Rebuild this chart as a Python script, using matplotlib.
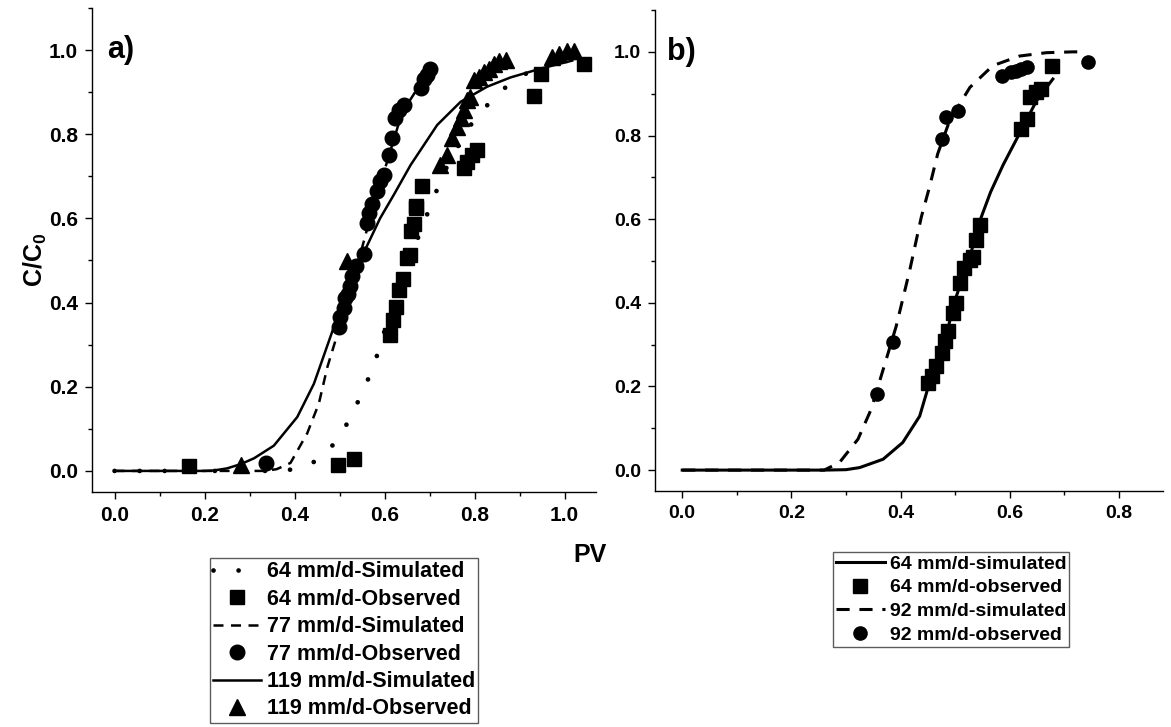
import matplotlib
matplotlib.use("Agg")
import matplotlib.pyplot as plt
from matplotlib.ticker import MultipleLocator

plt.rcParams['font.family'] = ['Liberation Sans', 'DejaVu Sans']
plt.rcParams['font.weight'] = 'bold'
plt.rcParams['mathtext.fontset'] = 'custom'
plt.rcParams['mathtext.rm'] = 'Liberation Sans:bold'
plt.rcParams['mathtext.bf'] = 'Liberation Sans:bold'

# ---- panel a) data ----
sim64_x = [0, 0.36, 0.391, 0.439, 0.480, 0.513, 0.539, 0.562, 0.582, 0.598, 0.62, 0.645,
           0.673, 0.693, 0.713, 0.735, 0.760, 0.787, 0.821, 0.862, 0.910, 0.96, 1.0]
sim64_y = [0, 0, 0.003, 0.018, 0.054, 0.105, 0.160, 0.214, 0.270, 0.326, 0.40, 0.48,
           0.550, 0.605, 0.659, 0.715, 0.765, 0.816, 0.861, 0.906, 0.942, 0.965, 0.975]

obs64_x = [0.165, 0.496, 0.532, 0.613, 0.619, 0.626, 0.632, 0.642, 0.650, 0.656, 0.659,
           0.665, 0.669, 0.671, 0.684, 0.776, 0.784, 0.795, 0.806, 0.933, 0.947, 1.044]
obs64_y = [0.012, 0.014, 0.028, 0.322, 0.359, 0.390, 0.430, 0.456, 0.507, 0.513, 0.570,
           0.587, 0.625, 0.629, 0.676, 0.719, 0.735, 0.751, 0.763, 0.891, 0.944, 0.968]

sim77_x = [0, 0.33, 0.36, 0.391, 0.428, 0.454, 0.473, 0.491, 0.51, 0.53, 0.55, 0.57,
           0.59, 0.61, 0.63, 0.65, 0.68, 0.71]
sim77_y = [0, 0, 0.004, 0.019, 0.089, 0.160, 0.247, 0.310, 0.39, 0.46, 0.53, 0.61,
           0.68, 0.75, 0.82, 0.87, 0.92, 0.96]

obs77_x = [0.336, 0.498, 0.502, 0.510, 0.513, 0.518, 0.524, 0.528, 0.536, 0.554, 0.560,
           0.565, 0.573, 0.584, 0.591, 0.598, 0.610, 0.617, 0.624, 0.632, 0.643, 0.680,
           0.687, 0.695, 0.702]
obs77_y = [0.018, 0.341, 0.365, 0.388, 0.412, 0.420, 0.440, 0.463, 0.487, 0.516, 0.589,
           0.613, 0.635, 0.664, 0.688, 0.704, 0.751, 0.790, 0.838, 0.857, 0.869, 0.909,
           0.932, 0.940, 0.956]

sim119_x = [0, 0.20, 0.22, 0.25, 0.28, 0.31, 0.354, 0.406, 0.443, 0.469, 0.487, 0.52,
            0.55, 0.59, 0.62, 0.658, 0.717, 0.769, 0.828, 0.88, 0.947, 1.006, 1.017]
sim119_y = [0, 0, 0.001, 0.006, 0.016, 0.03, 0.06, 0.128, 0.207, 0.286, 0.341, 0.43,
            0.51, 0.60, 0.655, 0.727, 0.822, 0.877, 0.913, 0.935, 0.956, 0.972, 0.975]

obs119_x = [0.282, 0.517, 0.724, 0.739, 0.750, 0.762, 0.769, 0.776, 0.784, 0.791, 0.798,
            0.810, 0.821, 0.832, 0.843, 0.854, 0.869, 0.973, 0.987, 1.006, 1.021]
obs119_y = [0.014, 0.499, 0.727, 0.751, 0.790, 0.818, 0.838, 0.857, 0.881, 0.889, 0.928,
            0.936, 0.948, 0.956, 0.968, 0.973, 0.976, 0.983, 0.991, 0.999, 0.999]

# ---- panel b) data ----
b_sim64_x = [0, 0.26, 0.30, 0.325, 0.368, 0.404, 0.435, 0.453, 0.478, 0.502, 0.527,
             0.545, 0.565, 0.588, 0.624, 0.649, 0.679]
b_sim64_y = [0, 0, 0.001, 0.006, 0.026, 0.066, 0.129, 0.209, 0.296, 0.415, 0.510,
             0.595, 0.665, 0.73, 0.82, 0.883, 0.935]

b_obs64_x = [0.450, 0.458, 0.465, 0.475, 0.481, 0.487, 0.496, 0.502, 0.508, 0.517, 0.527,
             0.533, 0.539, 0.545, 0.621, 0.631, 0.637, 0.649, 0.658, 0.678]
b_obs64_y = [0.209, 0.225, 0.248, 0.280, 0.308, 0.332, 0.375, 0.399, 0.447, 0.483, 0.502,
             0.510, 0.550, 0.586, 0.816, 0.840, 0.891, 0.903, 0.911, 0.967]

b_sim92_x = [0, 0.26, 0.288, 0.322, 0.346, 0.368, 0.392, 0.417, 0.438, 0.453, 0.468,
             0.490, 0.527, 0.569, 0.618, 0.667, 0.716, 0.73]
b_sim92_y = [0, 0, 0.018, 0.074, 0.145, 0.24, 0.344, 0.479, 0.605, 0.677, 0.756,
             0.836, 0.915, 0.967, 0.99, 0.998, 1.0, 1.0]

b_obs92_x = [0.357, 0.386, 0.475, 0.484, 0.505, 0.585, 0.603, 0.612, 0.621, 0.631, 0.744]
b_obs92_y = [0.181, 0.306, 0.792, 0.844, 0.858, 0.943, 0.951, 0.955, 0.959, 0.963, 0.975]

fig = plt.figure(figsize=(11.71, 7.27), dpi=100)
ax1 = fig.add_axes([0.0786, 0.3233, 0.4304, 0.6657])
ax2 = fig.add_axes([0.5593, 0.3246, 0.4335, 0.6616])


def style_axis(ax, xmax, fs):
    ax.set_xlim(-0.05, xmax)
    ax.set_ylim(-0.05, 1.1)
    ax.spines['top'].set_visible(False)
    ax.spines['right'].set_visible(False)
    for s in ('left', 'bottom'):
        ax.spines[s].set_linewidth(1.0)
    ax.xaxis.set_major_locator(MultipleLocator(0.2))
    ax.xaxis.set_minor_locator(MultipleLocator(0.1))
    ax.yaxis.set_major_locator(MultipleLocator(0.2))
    ax.yaxis.set_minor_locator(MultipleLocator(0.1))
    ax.tick_params(which='major', direction='out', length=5, width=1.0, labelsize=fs, pad=5)
    ax.tick_params(which='minor', direction='out', length=3, width=1.0)
    ax.xaxis.set_major_formatter(plt.FormatStrFormatter('%.1f'))
    ax.yaxis.set_major_formatter(plt.FormatStrFormatter('%.1f'))


# panel a
ax1.plot(sim64_x, sim64_y, color='black', lw=3.4, linestyle=(0, (0.01, 5.3)),
         dash_capstyle='round', label='64 mm/d-Simulated')
ax1.plot(obs64_x, obs64_y, 's', color='black', ms=9.5, label='64 mm/d-Observed')
ax1.plot(sim77_x, sim77_y, color='black', lw=1.8, linestyle=(0, (4, 3)),
         label='77 mm/d-Simulated')
ax1.plot(obs77_x, obs77_y, 'o', color='black', ms=10.5, label='77 mm/d-Observed')
ax1.plot(sim119_x, sim119_y, color='black', lw=1.8, label='119 mm/d-Simulated')
ax1.plot(obs119_x, obs119_y, '^', color='black', ms=11, label='119 mm/d-Observed')
style_axis(ax1, 1.07, 15)
ax1.text(0.03, 1.0, 'a)', transform=ax1.get_yaxis_transform(), fontsize=22,
         fontweight='bold', ha='left', va='center')

# panel b
ax2.plot(b_sim64_x, b_sim64_y, color='black', lw=2.2, label='64 mm/d-simulated')
ax2.plot(b_obs64_x, b_obs64_y, 's', color='black', ms=9.5, label='64 mm/d-observed')
ax2.plot(b_sim92_x, b_sim92_y, color='black', lw=2.2, linestyle=(0, (4.3, 3.2)),
         label='92 mm/d-simulated')
ax2.plot(b_obs92_x, b_obs92_y, 'o', color='black', ms=9.5, label='92 mm/d-observed')
style_axis(ax2, 0.88, 14)
ax2.text(0.024, 1.0, 'b)', transform=ax2.get_yaxis_transform(), fontsize=22,
         fontweight='bold', ha='left', va='center')

# axis labels
fig.text(0.03, 0.642, 'C/C$_\\mathbf{0}$', rotation=90, fontsize=18, fontweight='bold',
         ha='center', va='center')
fig.text(0.504, 0.237, 'PV', fontsize=18, fontweight='bold', ha='center', va='center')

# legends
leg1 = ax1.legend(loc='upper left', bbox_to_anchor=(0.1793, 0.2325),
                  bbox_transform=fig.transFigure, fontsize=15.5, frameon=True,
                  fancybox=False, edgecolor='#333333', borderpad=0.15,
                  handlelength=2.2, handletextpad=0.3, labelspacing=0.3,
                  borderaxespad=0)
leg1.get_frame().set_linewidth(1.0)
leg2 = ax2.legend(loc='upper left', bbox_to_anchor=(0.7114, 0.2407),
                  bbox_transform=fig.transFigure, fontsize=14, frameon=True,
                  fancybox=False, edgecolor='#333333', borderpad=0.15,
                  handlelength=2.5, handletextpad=0.26, labelspacing=0.32,
                  borderaxespad=0)
leg2.get_frame().set_linewidth(1.0)

fig.savefig('out.png', dpi=100)
